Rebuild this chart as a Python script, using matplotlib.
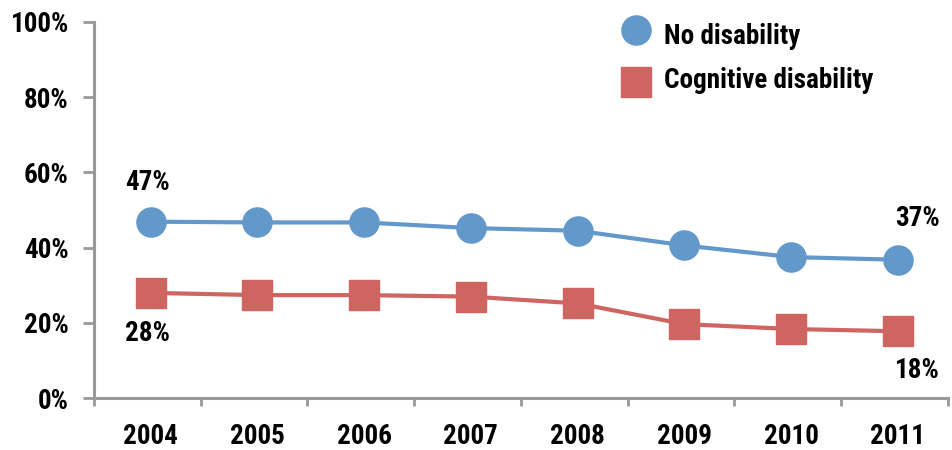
import numpy as np
import matplotlib
matplotlib.use("Agg")
import matplotlib.pyplot as plt
from matplotlib.lines import Line2D
from matplotlib import font_manager

years = ["2004", "2005", "2006", "2007", "2008", "2009", "2010", "2011"]
no_disability = [46.9, 46.7, 46.7, 45.2, 44.5, 40.6, 37.5, 36.8]
cognitive = [28.0, 27.4, 27.4, 27.0, 25.2, 19.7, 18.4, 17.8]
series_names = ["No disability", "Cognitive disability"]

# look for a narrow / condensed bold face
names = {f.name for f in font_manager.fontManager.ttflist}
narrow = [n for n in ['Liberation Sans Narrow', 'Roboto Condensed', 'Open Sans Condensed',
                      'DejaVu Sans Condensed'] if n in names]
condensed_dv = any(f.name == 'DejaVu Sans' and f.stretch == 'condensed'
                   for f in font_manager.fontManager.ttflist)

plt.rcParams['font.family'] = narrow[:1] + ['DejaVu Sans']
plt.rcParams['font.weight'] = 'bold'
if not narrow:
    plt.rcParams['font.stretch'] = 'condensed'
fs = 19.5 if narrow or condensed_dv else 16

blue = '#6298CA'
red = '#CF6560'
axis_gray = '#999999'

fig = plt.figure(figsize=(9.53, 4.5), dpi=100)
ax = fig.add_axes([94 / 953, 1 - 398.3 / 450, (948 - 94) / 953, (398.3 - 21.7) / 450])

x = np.arange(len(years))
ax.plot(x, no_disability, color=blue, lw=3, marker='o', ms=21, mec=blue, mfc=blue, zorder=3)
ax.plot(x, cognitive, color=red, lw=3, marker='s', ms=21, mec=red, mfc=red, zorder=3)

ax.set_xlim(-0.53, len(years) - 0.53)
ax.set_ylim(0, 100)

ax.set_yticks(np.arange(0, 101, 20))
ax.set_yticklabels([f"{v}%" for v in range(0, 101, 20)])
ax.set_xticks(x)
ax.set_xticklabels(years)
ax.set_xticks(np.arange(-0.53, len(years), 1), minor=True)

ax.tick_params(axis='x', which='major', length=0, pad=18, labelsize=fs)
ax.tick_params(axis='x', which='minor', length=6, width=2, color=axis_gray, direction='out')
ax.tick_params(axis='y', length=8, width=2, color=axis_gray, pad=10, labelsize=fs)

for s in ['top', 'right']:
    ax.spines[s].set_visible(False)
for s in ['left', 'bottom']:
    ax.spines[s].set_color(axis_gray)
    ax.spines[s].set_linewidth(2.2)

# end-point labels
lab = dict(fontsize=fs, fontweight='bold', ha='center', va='center',
           textcoords='offset points')
ax.annotate(f"{round(no_disability[0])}%", (x[0], no_disability[0]), xytext=(-2, 28), **lab)
ax.annotate(f"{round(cognitive[0])}%", (x[0], cognitive[0]), xytext=(-2, -29), **lab)
ax.annotate(f"{round(no_disability[-1])}%", (x[-1], no_disability[-1]), xytext=(14, 30), **lab)
ax.annotate(f"{round(cognitive[-1])}%", (x[-1], cognitive[-1]), xytext=(14, -28), **lab)

# legend
fig.add_artist(Line2D([636 / 953], [1 - 30 / 450], marker='o', ms=21, color=blue,
                      transform=fig.transFigure))
fig.add_artist(Line2D([636 / 953], [1 - 82 / 450], marker='s', ms=21, color=red,
                      transform=fig.transFigure))
fig.text(664 / 953, 1 - 36 / 450, series_names[0], fontsize=fs, fontweight='bold',
         va='center', ha='left')
fig.text(664 / 953, 1 - 80 / 450, series_names[1], fontsize=fs, fontweight='bold',
         va='center', ha='left')

fig.savefig("out.png", dpi=100)
